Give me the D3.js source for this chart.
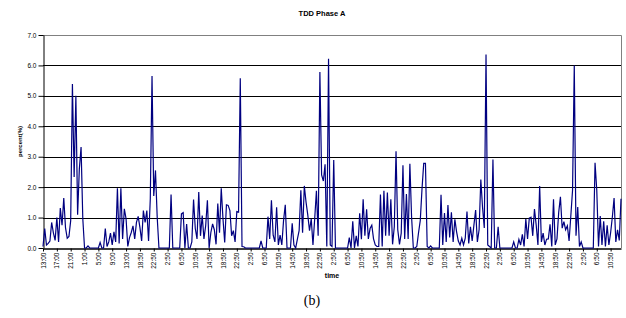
<!DOCTYPE html>
<html>
<head>
<meta charset="utf-8">
<script src="https://cdn.jsdelivr.net/npm/d3@7"></script>
<style>
  html, body { margin: 0; padding: 0; background: #fff; }
  svg { display: block; }
  text { font-family: "Liberation Sans", Arial, sans-serif; }
</style>
</head>
<body>
<svg id="chart" width="626" height="318"></svg>
<script>
const chartTitle = "TDD Phase A";
const yTitle = "percent(%)";
const xTitle = "time";
const caption = "(b)";

const yTicks = [0, 1, 2, 3, 4, 5, 6, 7];

const tickLabels = [
  "13:00","17:00","21:00","1:00","5:00","9:00","13:00","18:50","22:50","2:50",
  "6:50","10:50","14:50","18:50","22:50","2:50","6:50","10:50","14:50","18:50",
  "22:50","2:50","6:50","10:50","14:50","18:50","22:50","2:50","6:50","10:50",
  "14:50","18:50","22:50","2:50","6:50","10:50","14:50","18:50","22:50","2:50",
  "6:50","10:50"
];
const pointsPerLabel = 8;

// one row per 4-hour label interval
const values = [
  0.05,0.64,0.1,0.15,0.23,0.84,0.5,0.25,
  1.0,0.2,1.31,0.75,1.64,0.67,0.32,0.38,
  0.9,5.39,2.33,5.0,1.09,2.6,3.32,0.96,
  0,0,0.07,0,0,0,0,0,
  0,0.18,0,0,0.64,0.05,0.2,0.49,
  0.1,0.53,0.2,1.96,0.15,1.96,0.3,1.29,
  0.96,0.05,0.34,0.51,0.73,0.3,0.84,1.04,
  0.68,0.23,1.23,0.84,1.23,0.23,1.62,5.65,
  1.71,2.55,1.0,0,0,0,0,0,
  0,0,1.76,0,0,0,0,0,
  1.12,1.16,0,0.79,0,0,0.2,1.59,
  0.64,0.3,1.84,0.4,1.07,0.3,0.73,1.57,
  0,0.51,0.79,0.6,0.12,1.46,0.5,1.96,
  0.96,0.18,1.42,1.4,1.23,0.4,0.57,0.2,
  1.2,1.18,5.58,0.05,0.04,0,0,0,
  0,0,0,0,0,0,0.23,0,
  0,0,1.03,0.3,1.57,0.42,0.2,1.34,
  0.1,0.42,0.1,0.9,1.42,0,0,0,
  0.81,0.1,0,0.29,0.57,1.9,0.5,2.04,
  1.51,1.09,0.57,0.96,0.1,0.96,1.88,0.4,
  5.78,2.4,2.2,2.75,0.05,6.22,0.1,0.05,
  2.89,0,0,0,0,0,0,0,
  0,0.34,0,0.88,0,0.4,0.05,1.14,
  0.29,1.6,0.4,1.27,0.3,0.64,0.75,0.3,
  0.1,0.05,0.05,1.76,0.05,1.88,0.4,1.82,
  0.4,1.6,0.12,0.7,3.18,0.6,0.12,0.49,
  2.72,0.3,1.77,0.3,2.77,1.0,0,0,
  0.05,0.5,0.9,1.93,2.78,2.78,0.05,0,
  0.07,0,0,0,0,0,1.75,0.1,
  1.15,0.2,1.41,0.35,1.17,0.2,0.94,0.53,
  0.23,0.1,0.32,0.1,0.32,1.2,0.15,0.7,
  0.23,0.75,1.25,0.2,0.6,2.25,1.33,0.66,
  6.36,0.1,0.05,0,2.91,0,0,0.7,
  0,0,0,0,0,0,0,0,
  0.2,0,0,0.28,0.1,0.45,0.05,0.95,
  0.3,0.98,1.01,0.4,1.28,0.75,0.1,2.04,
  0.2,0.49,0.1,0.29,0.3,0.78,0.05,1.6,
  0.1,0.3,1.17,1.68,0.65,0.87,0.6,0.73,
  0.23,1.05,1.9,6.0,0.4,1.35,0.05,0.2,
  0,0,0,0,0,0,0,2.8,
  1.9,0.05,1.05,0.1,0.88,0.05,0.75,0.1,
  0.5,1.02,1.64,0.2,0.6,0.25,1.62
];

const svg = d3.select("#chart");
const plotLeft = 43, plotRight = 621, plotTop = 35, plotBottom = 248;

const x = d3.scaleLinear().domain([0, values.length - 1]).range([plotLeft, plotRight]);
const y = d3.scaleLinear().domain([0, 7]).range([plotBottom, plotTop]);

// title
svg.append("text").attr("x", 322).attr("y", 16).attr("text-anchor", "middle")
  .attr("font-size", 7.5).attr("font-weight", "bold").text(chartTitle);

// gridlines
svg.append("g").selectAll("line").data(yTicks.filter(d => d > 0 && d < 7)).join("line")
  .attr("x1", plotLeft).attr("x2", plotRight)
  .attr("y1", d => Math.round(y(d)) + 0.5).attr("y2", d => Math.round(y(d)) + 0.5)
  .attr("stroke", "#000").attr("stroke-width", 1);

// border top/right
svg.append("path")
  .attr("d", `M${plotLeft},${Math.round(y(7)) + 0.5}H${plotRight + 0.5}V${plotBottom}`)
  .attr("fill", "none").attr("stroke", "#808080").attr("stroke-width", 1);

// y axis
const yAxis = svg.append("g").attr("transform", `translate(${plotLeft + 0.5},0)`)
  .call(d3.axisLeft(y).tickValues(yTicks).tickFormat(d3.format(".1f")).tickSize(5).tickSizeOuter(0));
yAxis.select(".domain").attr("stroke", "#000");
yAxis.selectAll(".tick line").attr("stroke", "#000");
yAxis.selectAll(".tick text").attr("font-size", 6.5).attr("fill", "#000").attr("x", -7)
  .style("font-family", "'Liberation Sans', Arial, sans-serif");

// x axis
const tickIdx = tickLabels.map((d, i) => i * pointsPerLabel);
const xAxis = svg.append("g").attr("transform", `translate(0,${plotBottom + 0.5})`)
  .call(d3.axisBottom(x).tickValues(tickIdx).tickFormat((d, i) => tickLabels[i]).tickSize(3).tickSizeOuter(0));
xAxis.select(".domain").attr("stroke", "#000").attr("stroke-width", 1.5);
xAxis.selectAll(".tick line").attr("stroke", "#000");
xAxis.selectAll(".tick text")
  .attr("font-size", 6.5).attr("fill", "#000")
  .style("font-family", "'Liberation Sans', Arial, sans-serif")
  .attr("text-anchor", "end")
  .attr("transform", "rotate(-90)")
  .attr("x", -4).attr("y", 0).attr("dy", "0.32em");

// series line
const line = d3.line().x((d, i) => x(i)).y(d => y(d));
svg.append("path").datum(values).attr("d", line)
  .attr("fill", "none").attr("stroke", "#000080").attr("stroke-width", 1.2)
  .attr("stroke-linejoin", "miter");

// axis titles
svg.append("text").attr("transform", `translate(22,${(plotTop + plotBottom) / 2}) rotate(-90)`)
  .attr("text-anchor", "middle").attr("font-size", 6).attr("font-weight", "bold").text(yTitle);
svg.append("text").attr("x", 332).attr("y", 278).attr("text-anchor", "middle")
  .attr("font-size", 7).attr("font-weight", "bold").text(xTitle);

// caption
svg.append("text").attr("x", 312).attr("y", 305).attr("text-anchor", "middle")
  .attr("font-size", 14).style("font-family", "'Liberation Serif', 'Times New Roman', serif").text(caption);
</script>
</body>
</html>
